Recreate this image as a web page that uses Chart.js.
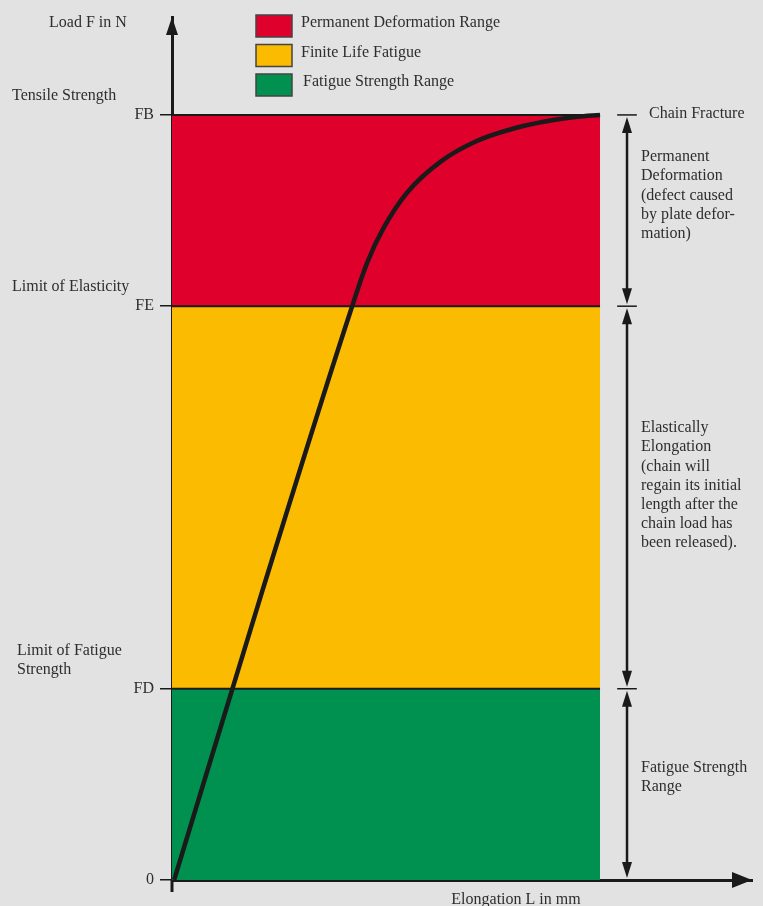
<!DOCTYPE html>
<html>
<head>
<meta charset="utf-8">
<script src="https://cdn.jsdelivr.net/npm/chart.js@4.4.1/dist/chart.umd.min.js"></script>
<style>
  html, body { margin: 0; padding: 0; background: #e2e2e2; }
  #wrap { width: 763px; height: 906px; }
</style>
</head>
<body>
<div id="wrap"><canvas id="chart" width="763" height="906"></canvas></div>
<script>
// Werte (Last in % von FB, Dehnung in % der Bandbreite)
const levelValues = [0, 25, 75, 100];
const levelLabels = ['0', 'FD', 'FE', 'FB'];
const bandNames = ['Permanent Deformation Range', 'Finite Life Fatigue', 'Fatigue Strength Range'];
const bandTop = [100, 75, 25];
const bandColors = ['#e0002c', '#fbbb00', '#009150'];
const curveX = [0.5, 21, 41.8, 45.6, 49.4, 55.0, 63.0, 71.2, 79.0, 86.8, 94.6, 100];
const curveY = [0, 37.6, 74.5, 80.7, 85.2, 89.9, 94.0, 96.6, 98.1, 99.1, 99.75, 100];
const bandEnd = 100;
const sideLabels = [
  { value: 100, lines: ['Tensile Strength'] },
  { value: 75, lines: ['Limit of Elasticity'] },
  { value: 25, lines: ['Limit of Fatigue', 'Strength'] }
];
const rangeNotes = [
  { from: 100, to: 75, lines: ['Permanent', 'Deformation', '(defect caused', 'by plate defor-', 'mation)'] },
  { from: 75, to: 25, lines: ['Elastically', 'Elongation', '(chain will', 'regain its initial', 'length after the', 'chain load has', 'been released).'] },
  { from: 25, to: 0, lines: ['Fatigue Strength', 'Range'] }
];
const yTitle = 'Load F in N';
const xTitle = 'Elongation L in mm';
const topNote = 'Chain Fracture';

const INK = '#1a1a1a';
const TXT = '#2e2e2e';
const FONT = '16px "Liberation Serif", "Times New Roman", serif';

function pts(xs, ys) { return xs.map((x, i) => ({ x: x, y: ys[i] })); }

// Bänder: grün zuerst bis 0, dann gelb/rot relativ zum vorherigen
const bandSets = [2, 1, 0].map((b, k) => ({
  data: [{ x: 0, y: bandTop[b] }, { x: bandEnd, y: bandTop[b] }],
  borderColor: INK,
  borderWidth: 2,
  backgroundColor: bandColors[b],
  pointRadius: 0,
  fill: k === 0 ? 'origin' : '-1'
}));

function arrowHead(ctx, x, y, dx, dy, len, half) {
  // Spitze bei (x,y), zeigt in Richtung (dx,dy)
  ctx.beginPath();
  ctx.moveTo(x, y);
  ctx.lineTo(x - dx * len - dy * half, y - dy * len + dx * half);
  ctx.lineTo(x - dx * len + dy * half, y - dy * len - dx * half);
  ctx.closePath();
  ctx.fill();
}

const extras = {
  id: 'extras',
  afterDraw(chart) {
    const ctx = chart.ctx;
    const xs = chart.scales.x, ys = chart.scales.y;
    const ca = chart.chartArea;
    const x0 = xs.getPixelForValue(0);
    ctx.save();
    ctx.fillStyle = INK;
    ctx.strokeStyle = INK;

    // Achsenpfeile
    ctx.lineWidth = 3;
    ctx.beginPath();
    ctx.moveTo(x0, ca.bottom);
    ctx.lineTo(x0, ca.bottom + 12);
    ctx.stroke();
    arrowHead(ctx, x0, ca.top, 0, -1, 18, 6);
    arrowHead(ctx, ca.right, ys.getPixelForValue(0), 1, 0, 20, 8);

    ctx.font = FONT;
    ctx.fillStyle = TXT;
    ctx.textBaseline = 'middle';
    ctx.textAlign = 'left';
    ctx.fillText(yTitle, 49, 23);
    ctx.textAlign = 'center';
    ctx.fillText(xTitle, 516, 900);
    ctx.textAlign = 'left';

    // linke Beschriftungen
    sideLabels.forEach((s, i) => {
      const py = ys.getPixelForValue(s.value);
      const lx = i === 2 ? 17 : 12;
      const top = py - 19 - (s.lines.length - 1) * 19;
      s.lines.forEach((l, j) => ctx.fillText(l, lx, top + j * 19));
    });

    // Legende
    bandNames.forEach((n, i) => {
      const by = 15 + i * 29.5;
      ctx.fillStyle = bandColors[i];
      ctx.fillRect(256, by, 36, 22);
      ctx.strokeStyle = '#444';
      ctx.lineWidth = 1.5;
      ctx.strokeRect(256, by, 36, 22);
      ctx.fillStyle = TXT;
      ctx.fillText(n, i === 2 ? 303 : 301, by + 8);
    });

    // Doppelpfeile rechts
    const ax = xs.getPixelForValue(106.3);
    const t1 = xs.getPixelForValue(104), t2 = xs.getPixelForValue(108.6);
    ctx.strokeStyle = INK;
    ctx.fillStyle = INK;
    [100, 75, 25].forEach(v => {
      const py = ys.getPixelForValue(v);
      ctx.lineWidth = 1.5;
      ctx.beginPath();
      ctx.moveTo(t1, py);
      ctx.lineTo(t2, py);
      ctx.stroke();
    });
    rangeNotes.forEach(r => {
      const ya = ys.getPixelForValue(r.from) + 2;
      const yb = ys.getPixelForValue(r.to) - 2;
      ctx.lineWidth = 2.5;
      ctx.beginPath();
      ctx.moveTo(ax, ya + 10);
      ctx.lineTo(ax, yb - 10);
      ctx.stroke();
      arrowHead(ctx, ax, ya, 0, -1, 16, 5);
      arrowHead(ctx, ax, yb, 0, 1, 16, 5);
    });

    ctx.fillStyle = TXT;
    ctx.fillText(topNote, 649, ys.getPixelForValue(100) - 1);
    const noteTop = [157, 428, 768];
    rangeNotes.forEach((r, i) => {
      r.lines.forEach((l, j) => ctx.fillText(l, 641, noteTop[i] + j * 19.2));
    });
    ctx.restore();
  }
};

new Chart(document.getElementById('chart'), {
  type: 'line',
  data: {
    datasets: [{
      data: pts(curveX, curveY),
      borderColor: INK,
      borderWidth: 4.5,
      pointRadius: 0,
      fill: false,
      cubicInterpolationMode: 'monotone'
    }].concat(bandSets)
  },
  options: {
    responsive: false,
    animation: false,
    layout: { padding: { left: 0, right: 11, top: 17, bottom: 0 } },
    plugins: { legend: { display: false }, tooltip: { enabled: false } },
    scales: {
      x: {
        type: 'linear', min: 0, max: 135.5,
        ticks: { display: false },
        grid: { display: false },
        border: { display: true, color: INK, width: 3 },
        afterFit: s => { s.height = 26; }
      },
      y: {
        type: 'linear', min: 0, max: 112.8,
        afterBuildTicks: s => { s.ticks = levelValues.map(v => ({ value: v })); },
        ticks: {
          callback: v => levelLabels[levelValues.indexOf(v)],
          color: TXT,
          font: { family: '"Liberation Serif", serif', size: 16 },
          padding: 6
        },
        grid: { drawOnChartArea: false, color: INK, lineWidth: 1.5, tickLength: 12 },
        border: { display: true, color: INK, width: 3 },
        afterFit: s => { s.width = 172; }
      }
    }
  },
  plugins: [extras]
});
</script>
</body>
</html>
